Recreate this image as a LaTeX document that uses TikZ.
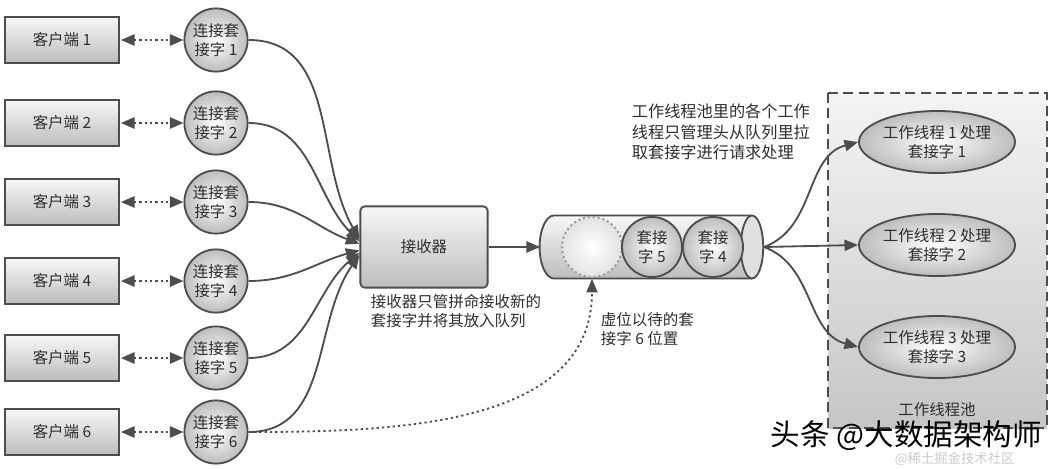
\documentclass[tikz,border=0pt]{standalone}
\usepackage{fontspec}
\newfontfamily\cjk{Noto Sans CJK SC}
\usetikzlibrary{arrows.meta, positioning, shapes.geometric, shadows}
\definecolor{inkgray}{HTML}{4D4D4D}
\definecolor{txtgray}{HTML}{2E2E2E}
\definecolor{shadelight}{HTML}{F7F7F7}
\definecolor{shadedark}{HTML}{BDBDBD}
\definecolor{pooltop}{HTML}{F4F4F4}
\definecolor{poolbot}{HTML}{C6C6C6}

\begin{document}
\begin{tikzpicture}[x=0.025cm, y=-0.025cm,
  >={Triangle[length=3.4mm, width=2.8mm]},
  every node/.style={font=\cjk\fontsize{11}{13}\selectfont, text=txtgray},
  client/.style={rectangle, draw=inkgray, line width=1.3pt, top color=shadelight,
    bottom color=shadedark, minimum width=2.83cm, minimum height=1.15cm,
    drop shadow={shadow xshift=1pt, shadow yshift=-1pt, opacity=0.3}},
  sock/.style={circle, draw=inkgray, line width=1.3pt, inner color=white,
    outer color=shadedark, minimum size=1.58cm, inner sep=0pt, align=center},
  qsock/.style={sock, minimum size=1.5cm},
  recv/.style={rectangle, rounded corners=3pt, draw=inkgray, line width=1.3pt,
    top color=shadelight, bottom color=shadedark, minimum width=3.18cm, minimum height=2.03cm},
  holder/.style={circle, draw=gray!75, line width=1.5pt, dash pattern=on 1.5pt off 2pt,
    inner color=white, outer color=gray!22, minimum size=1.5cm},
  worker/.style={ellipse, draw=inkgray, line width=1.3pt, inner color=white,
    outer color=shadedark, minimum width=3.9cm, minimum height=1.55cm, inner sep=0pt, align=center},
  pool/.style={draw=inkgray, line width=1.6pt, dash pattern=on 7pt off 4pt,
    top color=pooltop, bottom color=poolbot},
  link/.style={<->, draw=inkgray, line width=1.6pt, dash pattern=on 1.6pt off 2.2pt, shorten <=1pt},
  flow/.style={->, draw=inkgray, line width=1.3pt},
  note/.style={align=left, anchor=north west, font=\cjk\fontsize{11}{14}\selectfont},
]

\fill[white] (0,0) rectangle (1059,468);
\useasboundingbox (0,0) rectangle (1059,468);

% Worker pool background
\draw[pool] (828,93) rectangle (1047,428);
\node (poollbl) at (937,410) {工作线程池};

% Clients
\node[client] (cl1) at (62,40) {客户端 1};
\node[client] (cl2) at (62,123) {客户端 2};
\node[client] (cl3) at (62,202) {客户端 3};
\node[client] (cl4) at (62,281) {客户端 4};
\node[client] (cl5) at (62,358) {客户端 5};
\node[client] (cl6) at (62,432) {客户端 6};

% Connection sockets
\node[sock] (s1) at (216,40) {连接套\\接字 1};
\node[sock] (s2) at (216,123) {连接套\\接字 2};
\node[sock] (s3) at (216,202) {连接套\\接字 3};
\node[sock] (s4) at (216,281) {连接套\\接字 4};
\node[sock] (s5) at (216,358) {连接套\\接字 5};
\node[sock] (s6) at (216,432) {连接套\\接字 6};

\draw[link] (cl1.east) -- (s1.west);
\draw[link] (cl2.east) -- (s2.west);
\draw[link] (cl3.east) -- (s3.west);
\draw[link] (cl4.east) -- (s4.west);
\draw[link] (cl5.east) -- (s5.west);
\draw[link] (cl6.east) -- (s6.west);

% Acceptor
\node[recv] (rcv) at (424,247) {接收器};

\draw[flow] (s1.east) to[out=0, in=120] (rcv.173);
\draw[flow] (s2.east) to[out=0, in=135] (rcv.175);
\draw[flow] (s3.east) to[out=0, in=160] (rcv.177);
\draw[flow] (s4.east) to[out=0, in=195] (rcv.183);
\draw[flow] (s5.east) to[out=0, in=220] (rcv.185);
\draw[flow] (s6.east) to[out=0, in=235] (rcv.187);

\node[note] (rnote) at (366,289) {接收器只管拼命接收新的\\套接字并将其放入队列};

% Socket queue (tube drawn by hand, node q only gives anchors)
\node[minimum width=5.58cm, minimum height=1.58cm, inner sep=0pt] (q) at (652,247) {};
\shade[top color=shadelight, bottom color=shadedark]
  (554,215.5) -- (752,215.5) -- (752,278.5) -- (554,278.5)
  arc[start angle=270, end angle=90, x radius=0.36cm, y radius=0.7875cm] -- cycle;
\draw[inkgray, line width=1.3pt]
  (752,215.5) -- (554,215.5)
  arc[start angle=90, end angle=270, x radius=0.36cm, y radius=0.7875cm] -- (752,278.5);
\draw[inkgray, line width=1.3pt, fill=shadelight!60!shadedark]
  (752,247) ellipse [x radius=0.28cm, y radius=0.7875cm];
\node[holder] (ph) at (592,247) {};
\node[qsock] (q5) at (652,247) {套接\\字 5};
\node[qsock] (q4) at (713,247) {套接\\字 4};

\draw[flow] (rcv.east) -- (q.west);

\draw[flow, dash pattern=on 1.6pt off 2.2pt] (s6.east) to[out=0, in=270] (ph.south |- q.south);
\node[note] (phnote) at (596,307) {虚位以待的套\\接字 6 位置};

% Worker threads
\node[note, font=\cjk\fontsize{11.5}{14.5}\selectfont] (pnote) at (627,99)
  {工作线程池里的各个工作\\线程只管理头从队列里拉\\取套接字进行请求处理};

\node[worker] (w1) at (937,142) {工作线程 1 处理\\套接字 1};
\node[worker] (w2) at (937,245) {工作线程 2 处理\\套接字 2};
\node[worker] (w3) at (937,347) {工作线程 3 处理\\套接字 3};

\draw[flow] (q.east) to[out=20, in=195] (w1.west);
\draw[flow] (q.east) -- (w2.west);
\draw[flow] (q.east) to[out=-20, in=165] (w3.west);

% Watermark
\node[anchor=west, font=\cjk\fontsize{21}{24}\selectfont, text=black] (wm) at (766,436) {头条 @大数据架构师};
\node[anchor=west, font=\cjk\fontsize{9.5}{11}\selectfont, text=gray!40] (wm2) at (890,459) {@稀土掘金技术社区};

\end{tikzpicture}
\end{document}
